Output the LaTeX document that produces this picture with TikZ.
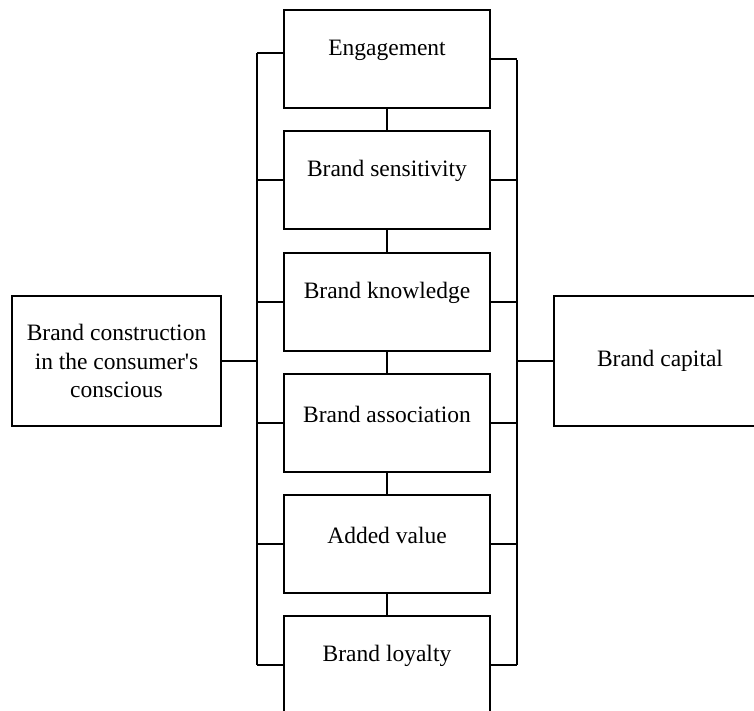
\documentclass[tikz,border=0pt]{standalone}
\usepackage{fontspec}
\setmainfont{Liberation Serif}
\begin{document}
\begin{tikzpicture}[x=1pt,y=-1pt,line width=1.8pt,
    stage/.style={draw,minimum width=206pt,minimum height=98pt,inner sep=0pt},
    side/.style={draw,minimum width=209pt,minimum height=130pt,inner sep=0pt,align=center},
    txt/.style={font=\fontsize{23.5}{28.5}\selectfont}]
    \useasboundingbox (0,0) rectangle (754,711);
    %% middle column
    \node[stage] (eng) at (387,59) {};
    \node[stage] (sens) at (387,180) {};
    \node[stage] (know) at (387,302) {};
    \node[stage] (assoc) at (387,423) {};
    \node[stage] (added) at (387,544) {};
    \node[stage] (loyal) at (387,665) {};
    %% labels, set high in each box
    \foreach \n/\t in {eng/Engagement,sens/Brand sensitivity,know/Brand knowledge,
        assoc/Brand association,added/Added value,loyal/Brand loyalty}
        \node[txt] at ([yshift=-41pt]\n.north) {\t};
    %% outer boxes
    \node[side,txt] (src) at (116.5,361) {Brand construction\\in the consumer\textquotesingle s\\conscious};
    \node[side,txt,minimum width=212pt] (cap) at (660,361) {Brand capital};
    %% links down the column
    \foreach \a/\b in {eng/sens,sens/know,know/assoc,assoc/added,added/loyal}
        \draw (\a.south) -- (\b.north);
    %% left bus
    \coordinate (lt) at (257,53);
    \coordinate (lb) at (257,665);
    \draw (lt) -- (lb);
    \draw (lt) -- (eng.west |- lt);
    \foreach \n in {sens,know,assoc,added,loyal}
        \draw (\n.west) -- (\n.west -| lt);
    \draw (src.east) -- (src.east -| lt);
    %% right bus
    \coordinate (rt) at (517,60);
    \coordinate (rb) at (517,665);
    \draw (rt) -- (rb);
    \foreach \n in {eng,sens,know,assoc,added,loyal}
        \draw (\n.east) -- (\n.east -| rt);
    \draw (cap.west) -- (cap.west -| rt);
\end{tikzpicture}
\end{document}
